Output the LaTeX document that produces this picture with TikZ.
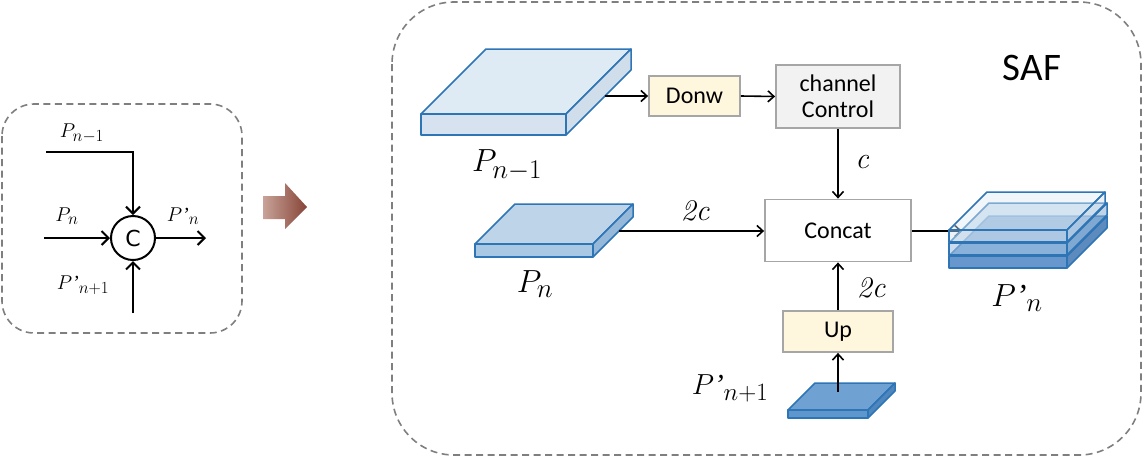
\RequirePackage{fix-cm}
\documentclass[tikz,border=0pt]{standalone}
\usepackage{fontspec}
\newfontfamily\carl{Carlito}
\newfontfamily\djv{DejaVu Sans}
\newfontfamily\qfont{Liberation Serif}
\newcommand\pq{{\qfont\itshape\char"2019}}
\usetikzlibrary{arrows.meta}
\DeclareMathSizes{32}{32}{27}{20}
\DeclareMathSizes{29}{29}{25}{18}
\DeclareMathSizes{20}{20}{17}{12}
\definecolor{edgeblue}{RGB}{46,117,182}
\definecolor{boxgray}{RGB}{166,166,166}
\definecolor{dashgray}{RGB}{127,127,127}
\definecolor{cream}{RGB}{255,246,222}
\definecolor{lgray}{RGB}{242,242,242}
\definecolor{aTop}{RGB}{222,234,244}
\definecolor{aFront}{RGB}{214,226,239}
\definecolor{aSide}{RGB}{208,222,236}
\definecolor{bTop}{RGB}{189,212,233}
\definecolor{bFront}{RGB}{169,200,228}
\definecolor{bSide}{RGB}{150,185,218}
\definecolor{cTop}{RGB}{111,161,210}
\definecolor{cFront}{RGB}{94,151,205}
\definecolor{cSide}{RGB}{79,134,190}
\definecolor{dTop}{RGB}{96,150,204}
\definecolor{dFront}{RGB}{86,140,198}
\definecolor{dSide}{RGB}{76,126,182}
\definecolor{mTop}{RGB}{167,197,226}
\definecolor{mFront}{RGB}{160,192,224}
\definecolor{mSide}{RGB}{140,176,212}
\newcommand\myslab[9]{%
 \filldraw[slabedge, fill=#6, fill opacity=#9] (#1,{#2-#4}) -- ({#1+#3},{#2-#4}) -- ({#1+#3+#5},{#2-#4-#5}) -- ({#1+#5},{#2-#4-#5}) -- cycle;
 \filldraw[slabedge, fill=#8, fill opacity=#9] ({#1+#3},{#2-#4}) -- ({#1+#3+#5},{#2-#4-#5}) -- ({#1+#3+#5},{#2-#5}) -- ({#1+#3},#2) -- cycle;
 \filldraw[slabedge, fill=#7, fill opacity=#9] (#1,#2) rectangle ({#1+#3},{#2-#4});
}
\tikzset{
 slabedge/.style={draw=edgeblue, line width=1.5pt, line join=round},
 opbox/.style={draw=boxgray, line width=1.8pt, inner sep=0pt, font=\carl\fontsize{24}{27}\selectfont, align=center},
 conn/.style={line width=1.6pt, -{Straight Barb[length=6pt,width=11pt,line width=1.6pt]}},
 lconn/.style={line width=2pt, -{Straight Barb[length=7pt,width=14pt,line width=2pt]}},
 frame/.style={draw=dashgray, line width=1.6pt, dash pattern=on 7pt off 4.5pt},
 bigmath/.style={font=\fontsize{32}{36}\selectfont, inner sep=0pt},
 midmath/.style={font=\fontsize{29}{34}\selectfont, inner sep=0pt},
 smallmath/.style={font=\fontsize{20}{24}\selectfont, inner sep=0pt},
 elabel/.style={font=\fontsize{30}{34}\selectfont\itshape, inner sep=0pt},
}
\begin{document}
\begin{tikzpicture}[x=1pt,y=-1pt]
\useasboundingbox (0,0) rectangle (1143,459);
% ---------- left panel ----------
\draw[frame, rounded corners=32pt] (2,104) rectangle (242,333);
\node[circle, draw, line width=2pt, minimum size=44pt, inner sep=0pt, font=\djv\fontsize{22}{24}\selectfont] (cc) at (133,238) {C};
\coordinate (l1) at (46,152);
\coordinate (l2) at (44,238);
\coordinate (l3) at (206,238);
\coordinate (l4) at (133,313);
\draw[lconn] (l1) -| (cc.north);
\draw[lconn] (l2) -- (cc.west);
\draw[lconn] (cc.east) -- (l3);
\draw[lconn] (l4) -- (cc.south);
\node[smallmath] (lp1) at (82,133) {$P_{n-1}$};
\node[smallmath] (lp2) at (67,216) {$P_{n}$};
\node[smallmath] (lp3) at (183,216) {$P$\pq$_{n}$};
\node[smallmath] (lp4) at (83,285) {$P$\pq$_{n+1}$};
% ---------- big arrow ----------
\shade[left color={rgb,255:red,200;green,163;blue,153}, middle color={rgb,255:red,214;green,184;blue,176}, right color={rgb,255:red,135;green,68;blue,55}]
 (263,196) -- (285,196) -- (285,183) -- (307,207) -- (285,229) -- (285,219) -- (263,219) -- cycle;
% ---------- right panel ----------
\draw[frame, rounded corners=62pt] (392,2) rectangle (1141,455);
\node[font=\carl\fontsize{39}{44}\selectfont, inner sep=0pt] (saf) at (1032,68) {SAF};
% slabs
\myslab{421}{135}{145}{21}{65}{aTop}{aFront}{aSide}{1}
\myslab{475}{257}{118}{13}{40}{bTop}{bFront}{bSide}{1}
\myslab{788}{418}{80}{8}{27}{cTop}{cFront}{cSide}{1}
% boxes
\node[opbox, fill=cream, minimum width=91pt, minimum height=40pt] (donw) at (694.5,96) {Donw};
\node[opbox, fill=lgray, minimum width=124pt, minimum height=63pt] (chan) at (838,96.5) {channel\\[-1pt]Control};
\node[opbox, fill=white, minimum width=146pt, minimum height=62pt] (concat) at (838,230.5) {Concat};
\node[opbox, fill=cream, minimum width=110pt, minimum height=41pt] (up) at (838,331.5) {Up};
% connectors
\coordinate (pa) at (605,96);
\coordinate (pb) at (619,231);
\coordinate (pc) at (838,392);
\coordinate (po) at (962,231);
\draw[conn] (pa) -- (donw.west);
\draw[conn] (donw.east) -- (chan.west);
\draw[conn] (chan.south) -- (concat.north);
\draw[conn] (pb) -- (pb -| concat.west);
\draw[conn] (up.north) -- (concat.south);
\draw[conn] (pc) -- (up.south);
\draw[conn] (concat.east |- po) -- (po);
% output stack
\myslab{949}{268}{118}{12}{40}{dTop}{dFront}{dSide}{0.9}
\myslab{949}{255}{118}{12}{40}{mTop}{mFront}{mSide}{0.55}
\myslab{949}{242}{118}{12}{38}{aTop}{aFront}{aSide}{0.45}
% labels
\node[bigmath] (rp1) at (507,165) {$P_{n-1}$};
\node[bigmath] (rp2) at (535,284) {$P_{n}$};
\node[bigmath] (rp3) at (1017,298) {$P$\pq$_{n}$};
\node[midmath] (rp4) at (730,388) {$P$\pq$_{n+1}$};
\node[elabel] (lc) at (862,162) {c};
\node[elabel] (l2c) at (695,211) {2c};
\node[elabel] (l2cb) at (871,288) {2c};
\end{tikzpicture}
\end{document}
